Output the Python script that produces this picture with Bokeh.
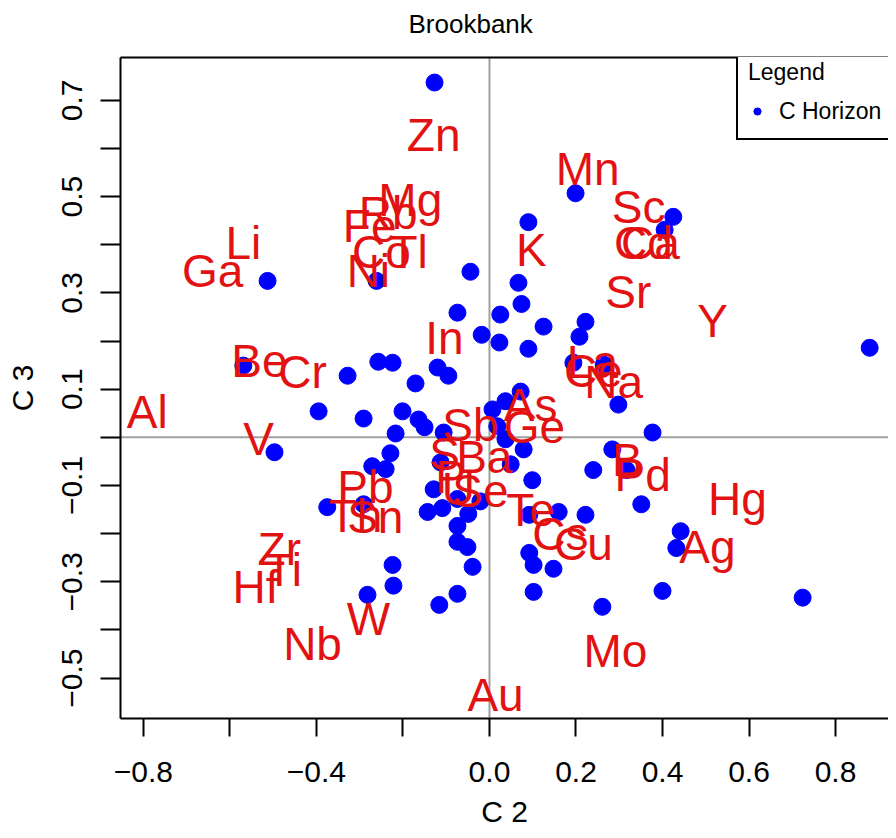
from bokeh.plotting import figure
from bokeh.models import Span, FixedTicker, LinearAxis, Range1d
from bokeh.core.properties import value
from bokeh.embed import file_html
from bokeh.resources import INLINE

# C Horizon sample scores (C2, C3)
pts_x = [-0.127, 0.199, 0.090, 0.425, 0.405, -0.513, -0.261, -0.044, 0.067, 0.074,
         -0.074, 0.025, 0.125, 0.222, -0.018, 0.208, 0.023, 0.090, -0.569, -0.257,
         -0.224, -0.328, -0.120, -0.095, -0.171, 0.194, 0.264, 0.298, 0.879, -0.395,
         -0.291, -0.201, -0.164, -0.150, -0.217, -0.106, 0.072, 0.037, 0.007, 0.377,
         -0.497, -0.229, -0.271, -0.240, -0.375, -0.291, -0.129, -0.074, -0.021, -0.143,
         -0.109, -0.049, -0.074, -0.074, -0.051, -0.039, -0.224, -0.222, -0.282, -0.074,
         -0.116, 0.079, 0.049, 0.099, 0.284, 0.240, 0.317, 0.351, 0.160, 0.222,
         0.092, 0.442, 0.432, 0.092, 0.102, 0.148, 0.102, 0.261, 0.400, 0.724,
         -0.113, 0.018, 0.037]
pts_y = [0.737, 0.507, 0.447, 0.458, 0.431, 0.325, 0.325, 0.344, 0.321, 0.277,
         0.259, 0.255, 0.230, 0.240, 0.213, 0.209, 0.197, 0.184, 0.149, 0.157,
         0.155, 0.128, 0.145, 0.128, 0.112, 0.155, 0.151, 0.068, 0.186, 0.054,
         0.039, 0.054, 0.037, 0.021, 0.008, 0.010, 0.095, 0.075, 0.058, 0.010,
         -0.031, -0.033, -0.060, -0.066, -0.145, -0.139, -0.108, -0.128, -0.133, -0.155,
         -0.147, -0.159, -0.184, -0.217, -0.228, -0.269, -0.265, -0.308, -0.327, -0.325,
         -0.348, -0.025, -0.056, -0.089, -0.025, -0.068, -0.068, -0.139, -0.155, -0.161,
         -0.161, -0.195, -0.230, -0.240, -0.265, -0.273, -0.321, -0.352, -0.319, -0.333,
         -0.052, 0.023, -0.004]

# Element loadings (C2, C3)
elem_names = ["Zn", "Mn", "Sc", "Cd", "Ca", "K", "Sr", "Y", "Li", "Ga",
              "Mg", "Rb", "Fe", "Co", "Tl", "Ni", "Be", "Cr", "In", "Al",
              "V", "La", "Ce", "Na", "As", "Ge", "Sb", "B", "Pd", "Hg", "Ag",
              "Te", "Cs", "Cu", "Mo", "Au", "Pb", "Th", "Sn", "Zr", "Ti",
              "Hf", "Nb", "W", "S", "Ba", "P", "U", "Se"]
elem_x = [-0.129, 0.227, 0.345, 0.356, 0.372, 0.097, 0.321, 0.516, -0.569, -0.640,
          -0.183, -0.234, -0.277, -0.250, -0.187, -0.280, -0.532, -0.432, -0.104, -0.791,
          -0.534, 0.238, 0.240, 0.287, 0.095, 0.104, -0.044, 0.319, 0.354, 0.573, 0.504,
          0.095, 0.164, 0.217, 0.291, 0.014, -0.287, -0.310, -0.264, -0.486, -0.476,
          -0.541, -0.409, -0.280, -0.104, -0.012, -0.090, -0.072, -0.021]
elem_y = [0.627, 0.557, 0.478, 0.404, 0.404, 0.389, 0.302, 0.242, 0.404, 0.346,
          0.493, 0.466, 0.439, 0.385, 0.385, 0.346, 0.159, 0.135, 0.207, 0.052,
          -0.004, 0.157, 0.137, 0.114, 0.068, 0.021, 0.025, -0.048, -0.079, -0.128, -0.228,
          -0.151, -0.201, -0.222, -0.443, -0.536, -0.104, -0.164, -0.166, -0.232, -0.275,
          -0.311, -0.429, -0.377, -0.035, -0.041, -0.083, -0.108, -0.112]

x_ticks = [-0.8, -0.6, -0.4, -0.2, 0.0, 0.2, 0.4, 0.6, 0.8]
x_tick_labels = ["\u22120.8", "", "\u22120.4", "", "0.0", "0.2", "0.4", "0.6", "0.8"]
y_ticks = [-0.5, -0.4, -0.3, -0.2, -0.1, 0.0, 0.1, 0.2, 0.3, 0.4, 0.5, 0.6, 0.7]
y_tick_labels = ["\u22120.5", "", "\u22120.3", "", "\u22120.1", "", "0.1", "", "0.3", "", "0.5", "", "0.7"]

FONT = "Liberation Sans"
TICK_PX = "30px"

p = figure(width=888, height=830,
           x_range=Range1d(-0.853, 0.9225), y_range=Range1d(-0.584, 0.789),
           output_backend="svg", toolbar_location=None,
           min_border_left=120, min_border_right=0,
           min_border_top=57, min_border_bottom=110)
p.outline_line_color = None
p.grid.visible = False
p.background_fill_color = "white"

p.title.text = "Brookbank"
p.title.align = "left"
p.title.offset = 288
p.title.standoff = 10
p.title.text_font = FONT
p.title.text_font_size = "26px"
p.title.text_font_style = "normal"
p.title.text_color = "black"

# reference lines
p.add_layout(Span(location=0, dimension="height", line_color="#A0A0A0",
                  line_width=2, level="underlay"))
p.add_layout(Span(location=0, dimension="width", line_color="#A0A0A0",
                  line_width=2, level="underlay"))

p.scatter(pts_x, pts_y, marker="circle", size=17, fill_color="#0000FF",
          line_color="#0000FF", legend_label="C Horizon")

p.text(x=elem_x, y=elem_y, text=elem_names, text_font=value(FONT),
       text_font_size=value("46px"), text_color="#E31212",
       text_align="center", text_baseline="middle")

# bottom axis
xa = p.xaxis[0]
xa.ticker = FixedTicker(ticks=x_ticks)
xa.major_label_overrides = dict(zip(x_ticks, x_tick_labels))
xa.minor_tick_line_color = None
xa.major_tick_in = 0
xa.major_tick_out = 18
xa.major_tick_line_width = 2
xa.major_tick_line_color = "black"
xa.axis_line_width = 2
xa.axis_line_color = "black"
xa.major_label_text_font = FONT
xa.major_label_text_font_size = TICK_PX
xa.major_label_text_color = "black"
xa.major_label_standoff = 25
xa.axis_label = "C 2"
xa.axis_label_text_font = FONT
xa.axis_label_text_font_size = TICK_PX
xa.axis_label_text_font_style = "normal"
xa.axis_label_text_color = "black"
xa.axis_label_standoff = 10

# left axis
ya = p.yaxis[0]
ya.ticker = FixedTicker(ticks=y_ticks)
ya.major_label_overrides = dict(zip(y_ticks, y_tick_labels))
ya.major_label_orientation = "vertical"
ya.minor_tick_line_color = None
ya.major_tick_in = 0
ya.major_tick_out = 20
ya.major_tick_line_width = 2
ya.major_tick_line_color = "black"
ya.axis_line_width = 2
ya.axis_line_color = "black"
ya.major_label_text_font = FONT
ya.major_label_text_font_size = TICK_PX
ya.major_label_text_color = "black"
ya.major_label_standoff = 18
ya.axis_label = "C 3"
ya.axis_label_text_font = FONT
ya.axis_label_text_font_size = TICK_PX
ya.axis_label_text_font_style = "normal"
ya.axis_label_text_color = "black"
ya.axis_label_standoff = 21

# top border line of the box; one hidden, unlabeled tick gives it height so
# that the title sits higher, as in the reference
top = LinearAxis(ticker=FixedTicker(ticks=[0.0]), major_label_overrides={0.0: ""},
                 major_tick_line_color=None, minor_tick_line_color=None,
                 major_label_text_font_size="0px", major_label_standoff=0,
                 major_tick_out=14, major_tick_in=0,
                 axis_line_width=2, axis_line_color="black")
p.add_layout(top, "above")

lg = p.legend[0]
lg.location = (616, 578)
lg.title = "Legend"
lg.title_text_font = FONT
lg.title_text_font_size = "23px"
lg.title_text_font_style = "normal"
lg.title_text_color = "black"
lg.title_standoff = 8
lg.label_text_font = FONT
lg.label_text_font_size = "23px"
lg.label_text_color = "black"
lg.border_line_color = "black"
lg.border_line_width = 2
lg.border_line_alpha = 1
lg.background_fill_alpha = 1
lg.padding = 10
lg.margin = 0
lg.spacing = 0
lg.glyph_width = 18
lg.glyph_height = 34
lg.label_standoff = 13

open("out.html", "w").write(file_html(p, INLINE))
